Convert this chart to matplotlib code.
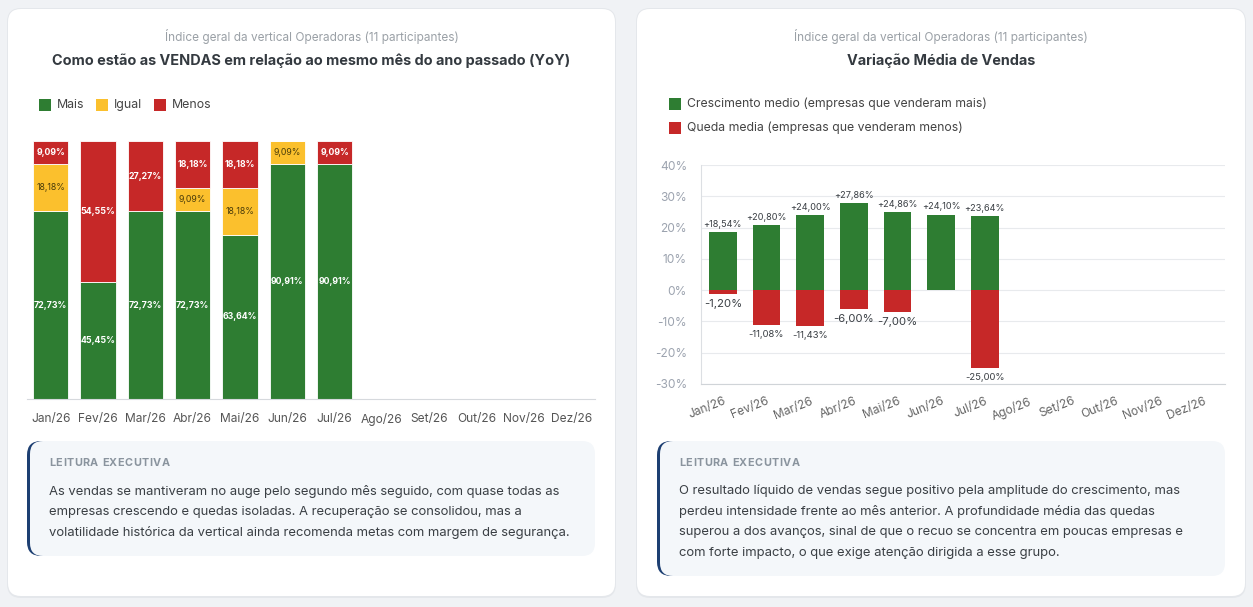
import matplotlib
matplotlib.use("Agg")
import matplotlib.pyplot as plt
from matplotlib.patches import FancyBboxPatch, Rectangle
import numpy as np

plt.rcParams['font.family'] = ['Inter', 'DejaVu Sans']

# ---------------- data ----------------
months = ["Jan/26", "Fev/26", "Mar/26", "Abr/26", "Mai/26", "Jun/26",
          "Jul/26", "Ago/26", "Set/26", "Out/26", "Nov/26", "Dez/26"]
mais = [72.73, 45.45, 72.73, 72.73, 63.64, 90.91, 90.91]
igual = [18.18, 0.0, 0.0, 9.09, 18.18, 9.09, 0.0]
menos = [9.09, 54.55, 27.27, 18.18, 18.18, 0.0, 9.09]

cresc = [18.54, 20.80, 24.00, 27.86, 24.86, 24.10, 23.64]
queda = [-1.20, -11.08, -11.43, -6.00, -7.00, 0.0, -25.00]

subtitle = "Índice geral da vertical Operadoras (11 participantes)"
title_left = "Como estão as VENDAS em relação ao mesmo mês do ano passado (YoY)"
title_right = "Variação Média de Vendas"
legend_left = ["Mais", "Igual", "Menos"]
legend_right = ["Crescimento medio (empresas que venderam mais)",
                "Queda media (empresas que venderam menos)"]
box_header = "LEITURA EXECUTIVA"
text_left = ["As vendas se mantiveram no auge pelo segundo mês seguido, com quase todas as",
             "empresas crescendo e quedas isoladas. A recuperação se consolidou, mas a",
             "volatilidade histórica da vertical ainda recomenda metas com margem de segurança."]
text_right = ["O resultado líquido de vendas segue positivo pela amplitude do crescimento, mas",
              "perdeu intensidade frente ao mês anterior. A profundidade média das quedas",
              "superou a dos avanços, sinal de que o recuo se concentra em poucas empresas e",
              "com forte impacto, o que exige atenção dirigida a esse grupo."]

GREEN = "#2e7d32"
YELLOW = "#fbc02d"
RED = "#c62828"

W, H = 1253, 607
fig = plt.figure(figsize=(W / 100, H / 100), dpi=100)
fig.patch.set_facecolor("#f0f2f5")

bg = fig.add_axes([0, 0, 1, 1])
bg.set_xlim(0, W)
bg.set_ylim(H, 0)
bg.axis("off")


def rbox(x0, y0, x1, y1, r, fc, ec="none", lw=0, z=1):
    p = FancyBboxPatch((x0 + r, y0 + r), (x1 - x0) - 2 * r, (y1 - y0) - 2 * r,
                       boxstyle=f"round,pad={r}", fc=fc, ec=ec, lw=lw, zorder=z,
                       mutation_aspect=1)
    bg.add_patch(p)


def spaced_text(x0, y, s, spacing, **kw):
    # draw text with extra letter spacing
    r = fig.canvas.get_renderer()
    xcur = x0
    for ch in s:
        t = bg.text(xcur, y, ch, ha="left", va="center", **kw)
        bb = t.get_window_extent(renderer=r)
        xcur += bb.width + spacing


# cards
for (x0, x1) in [(8, 615), (637, 1245)]:
    rbox(x0 - 1, 8, x1 + 1, 598, 14, "#e4e7eb", z=0.5)
    rbox(x0, 9, x1, 596, 13, "white", z=1)

# titles
for cx, t in [(311.5, title_left), (941, title_right)]:
    bg.text(cx, 37, subtitle, ha="center", va="center", fontsize=8.5, color="#9aa0a6", zorder=3)
    bg.text(cx, 61, t, ha="center", va="center", fontsize=10.4, fontweight="bold",
            color="#343a40", zorder=3)

# left legend
for (sx, tx, c, lab) in [(39, 57, GREEN, legend_left[0]), (96, 114, YELLOW, legend_left[1]),
                         (154, 172, RED, legend_left[2])]:
    bg.add_patch(Rectangle((sx, 99), 12, 12, fc=c, ec="none", zorder=3))
    bg.text(tx, 105, lab, ha="left", va="center", fontsize=8.9, color="#444", zorder=3)

# right legend
for (sy, c, lab) in [(104, GREEN, legend_right[0]), (128, RED, legend_right[1])]:
    bg.add_patch(Rectangle((669, sy - 6), 12, 12, fc=c, ec="none", zorder=3))
    bg.text(687, sy, lab, ha="left", va="center", fontsize=8.8, color="#444", zorder=3)

# executive boxes
for (x0, x1, y1, lines) in [(27, 595, 556, text_left), (657, 1225, 576, text_right)]:
    rbox(x0, 441, x0 + 60, y1, 14, "#1d3f72", z=2)
    rbox(x0 + 3, 441, x1, y1, 13, "#f4f7fa", z=2.1)
    tx = x0 + 22
    spaced_text(tx, 463, box_header, 0.5, fontsize=7.8, fontweight="bold",
                color="#8a949e", zorder=3)
    for i, ln in enumerate(lines):
        bg.text(tx, 491 + i * 20.7, ln, ha="left", va="center", fontsize=9.4,
                color="#3a3f44", zorder=3)


def ax_rect(x0, y0, x1, y1):
    return [x0 / W, 1 - y1 / H, (x1 - x0) / W, (y1 - y0) / H]


# ---------------- left chart ----------------
ax1 = fig.add_axes(ax_rect(27, 141, 595, 399))
ax1.patch.set_alpha(0)
n = len(mais)
x = np.arange(n)
bw = 0.74
ax1.bar(x, mais, bw, color=GREEN, edgecolor="white", linewidth=0.6)
ax1.bar(x, igual, bw, bottom=mais, color=YELLOW, edgecolor="white", linewidth=0.6)
bot3 = [a + b for a, b in zip(mais, igual)]
ax1.bar(x, menos, bw, bottom=bot3, color=RED, edgecolor="white", linewidth=0.6)
ax1.set_xlim(-0.5, 11.5)
ax1.set_ylim(0, 100)
for i in range(n):
    if mais[i] > 0:
        ax1.text(i, mais[i] / 2, f"{mais[i]:.2f}%".replace(".", ","), ha="center", va="center",
                 fontsize=6.3, fontweight="bold", color="white")
    if igual[i] > 0:
        ax1.text(i, mais[i] + igual[i] / 2, f"{igual[i]:.2f}%".replace(".", ","), ha="center",
                 va="center", fontsize=6.3, color="#4a3c0a")
    if menos[i] > 0:
        ax1.text(i, bot3[i] + menos[i] / 2, f"{menos[i]:.2f}%".replace(".", ","), ha="center",
                 va="center", fontsize=6.3, fontweight="bold", color="white")
ax1.set_xticks(range(len(months)))
ax1.set_xticklabels(months, fontsize=8.6, color="#555")
ax1.tick_params(axis="x", length=0, pad=10)
ax1.set_yticks([])
for s in ["top", "right", "left"]:
    ax1.spines[s].set_visible(False)
ax1.spines["bottom"].set_color("#d6d9dd")
ax1.spines["bottom"].set_linewidth(0.8)

# ---------------- right chart ----------------
ax2 = fig.add_axes(ax_rect(701, 165, 1225, 384))
ax2.patch.set_alpha(0)
bw2 = 0.64
ax2.bar(x, cresc, bw2, color=GREEN, zorder=3)
ax2.bar(x, queda, bw2, color=RED, zorder=3)
ax2.set_xlim(-0.5, 11.5)
ax2.set_ylim(-30, 40)
yt = np.arange(-30, 41, 10)
ax2.set_yticks(yt)
ax2.set_yticklabels([f"{v}%" for v in yt], fontsize=8.6, color="#9ca3af")
ax2.grid(axis="y", color="#e8eaed", linewidth=0.8, zorder=0)
ax2.tick_params(axis="y", length=0, pad=10)
ax2.set_xticks(range(len(months)))
ax2.set_xticklabels(months, fontsize=8.6, color="#666", rotation=22, ha="right",
                    rotation_mode="anchor")
ax2.tick_params(axis="x", length=0, pad=8)
for s in ["top", "right"]:
    ax2.spines[s].set_visible(False)
ax2.spines["left"].set_color("#dcdfe3")
ax2.spines["bottom"].set_color("#d0d4d8")
ax2.spines["left"].set_linewidth(0.8)
ax2.spines["bottom"].set_linewidth(0.8)
for i in range(n):
    ax2.annotate(f"+{cresc[i]:.2f}%".replace(".", ","), (i, cresc[i]), xytext=(0, 2.5),
                 textcoords="offset points", ha="center", va="bottom", fontsize=6.6,
                 color="#3a3f44", zorder=4)
    if queda[i] < 0:
        fs = 8.2 if abs(queda[i]) < 10 else 6.8
        ax2.annotate(f"{queda[i]:.2f}%".replace(".", ","), (i, queda[i]), xytext=(0, -3.5),
                     textcoords="offset points", ha="center", va="top", fontsize=fs,
                     color="#3a3f44", zorder=4)

fig.savefig("out.png", dpi=100, facecolor=fig.get_facecolor())
